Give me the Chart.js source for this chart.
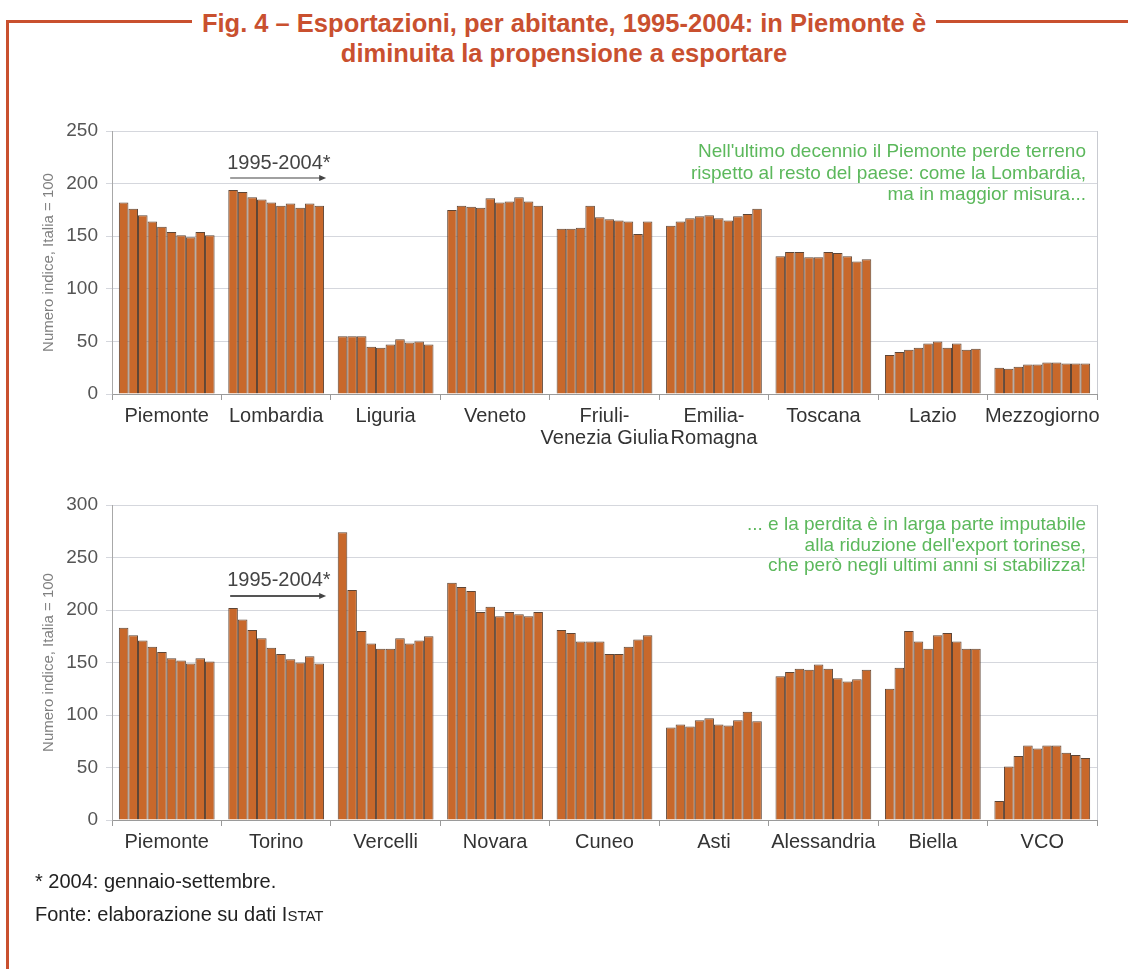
<!DOCTYPE html>
<html>
<head>
<meta charset="utf-8">
<script src="https://cdn.jsdelivr.net/npm/chart.js@4.4.0/dist/chart.umd.min.js"></script>
<style>
  body { margin: 0; background: #fff; width: 1128px; height: 969px; position: relative; overflow: hidden;
         font-family: 'Liberation Sans', Arial, sans-serif; }
  .rule { position: absolute; background: #c9502f; }
  #title { position: absolute; left: 0; width: 1128px; top: 8px; text-align: center; color: #c9502f;
           font-weight: bold; font-size: 25.5px; line-height: 30px; }
  #title span { background: #fff; padding: 0 10px; }
  .box { position: absolute; left: 0; width: 1128px; }
  .note { position: absolute; left: 35px; font-size: 20px; color: #222; }
</style>
</head>
<body>
<div class="rule" style="left:7px;top:20px;width:1121px;height:3px"></div>
<div class="rule" style="left:6px;top:20px;width:3px;height:949px"></div>
<div id="title"><span>Fig. 4 – Esportazioni, per abitante, 1995-2004: in Piemonte è</span><br>diminuita la propensione a esportare</div>

<div class="box" style="top:110px;height:350px"><canvas id="regioni"></canvas></div>
<div class="box" style="top:480px;height:400px"><canvas id="province"></canvas></div>

<div class="note" style="top:870px">* 2004: gennaio-settembre.</div>
<div class="note" style="top:903px">Fonte: elaborazione su dati I<span style="font-size:15px">STAT</span></div>

<script>
// anni 1995-2004 (2004: gennaio-settembre), Italia = 100
const anni = ['1995', '1996', '1997', '1998', '1999', '2000', '2001', '2002', '2003', '2004*'];

// --- pannello superiore: regioni
const regioni = ['Piemonte', 'Lombardia', 'Liguria', 'Veneto', ['Friuli-', 'Venezia Giulia'],
                 ['Emilia-', 'Romagna'], 'Toscana', 'Lazio', 'Mezzogiorno'];
const piemonte    = [182, 176, 170, 164, 159, 154, 151, 149, 154, 151];
const lombardia   = [194, 192, 187, 185, 182, 179, 181, 177, 181, 179];
const liguria     = [55, 55, 55, 45, 44, 47, 52, 49, 50, 47];
const veneto      = [175, 179, 178, 177, 186, 182, 183, 187, 183, 179];
const friuli      = [157, 157, 158, 179, 168, 166, 165, 164, 152, 164];
const emilia      = [160, 164, 167, 169, 170, 167, 165, 169, 171, 176];
const toscana     = [131, 135, 135, 130, 130, 135, 134, 131, 126, 128];
const lazio       = [37, 40, 42, 44, 48, 50, 44, 48, 42, 43];
const mezzogiorno = [25, 24, 26, 28, 28, 30, 30, 29, 29, 29];
const valoriRegioni = [piemonte, lombardia, liguria, veneto, friuli, emilia, toscana, lazio, mezzogiorno];
const tickRegioni = [0, 50, 100, 150, 200, 250];

// --- pannello inferiore: province piemontesi
const province = ['Piemonte', 'Torino', 'Vercelli', 'Novara', 'Cuneo', 'Asti', 'Alessandria', 'Biella', 'VCO'];
const piemonte2   = [183, 176, 171, 165, 160, 154, 152, 149, 154, 151];
const torino      = [202, 191, 181, 173, 164, 158, 153, 150, 156, 149];
const vercelli    = [274, 219, 180, 168, 163, 163, 173, 168, 171, 175];
const novara      = [226, 222, 218, 198, 203, 194, 198, 196, 194, 198];
const cuneo       = [181, 178, 170, 170, 170, 158, 158, 165, 172, 176];
const asti        = [88, 91, 89, 95, 97, 91, 90, 95, 103, 94];
const alessandria = [137, 141, 144, 143, 148, 144, 135, 132, 134, 143];
const biella      = [125, 145, 180, 170, 163, 176, 178, 170, 163, 163];
const vco         = [18, 51, 61, 71, 68, 71, 71, 64, 62, 59];
const valoriProvince = [piemonte2, torino, vercelli, novara, cuneo, asti, alessandria, biella, vco];
const tickProvince = [0, 50, 100, 150, 200, 250, 300];

const notaRegioni = ["Nell'ultimo decennio il Piemonte perde terreno",
                     'rispetto al resto del paese: come la Lombardia,',
                     'ma in maggior misura...'];
const notaProvince = ['... e la perdita è in larga parte imputabile',
                      "alla riduzione dell'export torinese,",
                      'che però negli ultimi anni si stabilizza!'];

const FONT = "'Liberation Sans', Arial, sans-serif";

// right frame, green comment and the "1995-2004*" arrow
const notes = {
  id: 'notes',
  afterDraw(chart, args, opts) {
    const { ctx, chartArea: a, scales: { x } } = chart;
    ctx.save();
    ctx.strokeStyle = '#c9cbd1';
    ctx.lineWidth = 1;
    ctx.beginPath();
    ctx.moveTo(a.right + 0.5, a.top);
    ctx.lineTo(a.right + 0.5, a.bottom);
    ctx.stroke();

    ctx.font = '19px ' + FONT;
    ctx.fillStyle = '#5cb85c';
    ctx.textAlign = 'right';
    ctx.textBaseline = 'middle';
    opts.lines.forEach(function(t, i) {
      ctx.fillText(t, a.right - 11, a.top + opts.linesTop + i * opts.linesGap);
    });

    const cx = x.getPixelForValue(1);
    ctx.font = '20px ' + FONT;
    ctx.fillStyle = '#444';
    ctx.textAlign = 'left';
    ctx.fillText('1995-2004*', cx - 49, a.top + opts.spanText);
    const ay = a.top + opts.spanArrow;
    ctx.strokeStyle = opts.arrowColor;
    ctx.lineWidth = 2;
    ctx.beginPath();
    ctx.moveTo(cx - 46, ay);
    ctx.lineTo(cx + 44, ay);
    ctx.stroke();
    ctx.fillStyle = '#444';
    ctx.beginPath();
    ctx.moveTo(cx + 50, ay);
    ctx.lineTo(cx + 43, ay - 3);
    ctx.lineTo(cx + 43, ay + 3);
    ctx.closePath();
    ctx.fill();
    ctx.restore();
  }
};

function makeChart(id, labels, values, ticks, xHeight, padTop, noteOpts) {
  const datasets = anni.map(function(anno, i) {
    return {
      label: anno,
      data: values.map(function(serie) { return serie[i]; }),
      backgroundColor: '#c8682b',
      borderColor: '#5e4535',
      borderWidth: 1,
      barPercentage: 1,
      categoryPercentage: 0.875
    };
  });

  return new Chart(document.getElementById(id), {
    type: 'bar',
    data: { labels: labels, datasets: datasets },
    plugins: [notes],
    options: {
      responsive: true,
      maintainAspectRatio: false,
      animation: false,
      layout: { padding: { top: padTop, right: 31, left: 0, bottom: 0 } },
      plugins: {
        legend: { display: false },
        tooltip: { enabled: false },
        notes: noteOpts
      },
      scales: {
        x: {
          grid: { offset: true, drawOnChartArea: false, tickLength: 6, color: '#9a9a9a' },
          border: { color: '#9a9a9a' },
          ticks: { font: { family: FONT, size: 20, lineHeight: 1.1 }, color: '#333', padding: 5, maxRotation: 0, autoSkip: false },
          afterFit: function(s) { s.height = xHeight; }
        },
        y: {
          min: ticks[0],
          max: ticks[ticks.length - 1],
          afterBuildTicks: function(s) { s.ticks = ticks.map(function(v) { return { value: v }; }); },
          grid: { color: '#d5d7dd', tickLength: 6 },
          border: { color: '#a8a8a8' },
          ticks: { font: { family: FONT, size: 19 }, color: '#555', padding: 8 },
          title: { display: true, text: 'Numero indice, Italia = 100', color: '#808080',
                   font: { family: FONT, size: 15 }, padding: { top: 40, bottom: 0 } },
          afterFit: function(s) { s.width = 112; }
        }
      }
    }
  });
}

makeChart('regioni', regioni, valoriRegioni, tickRegioni, 66, 21,
  { lines: notaRegioni, linesTop: 21, linesGap: 21.5, spanText: 32, spanArrow: 47, arrowColor: '#a0a0a0' });
makeChart('province', province, valoriProvince, tickProvince, 60, 25,
  { lines: notaProvince, linesTop: 20, linesGap: 20.5, spanText: 75, spanArrow: 91, arrowColor: '#555' });
</script>
</body>
</html>
